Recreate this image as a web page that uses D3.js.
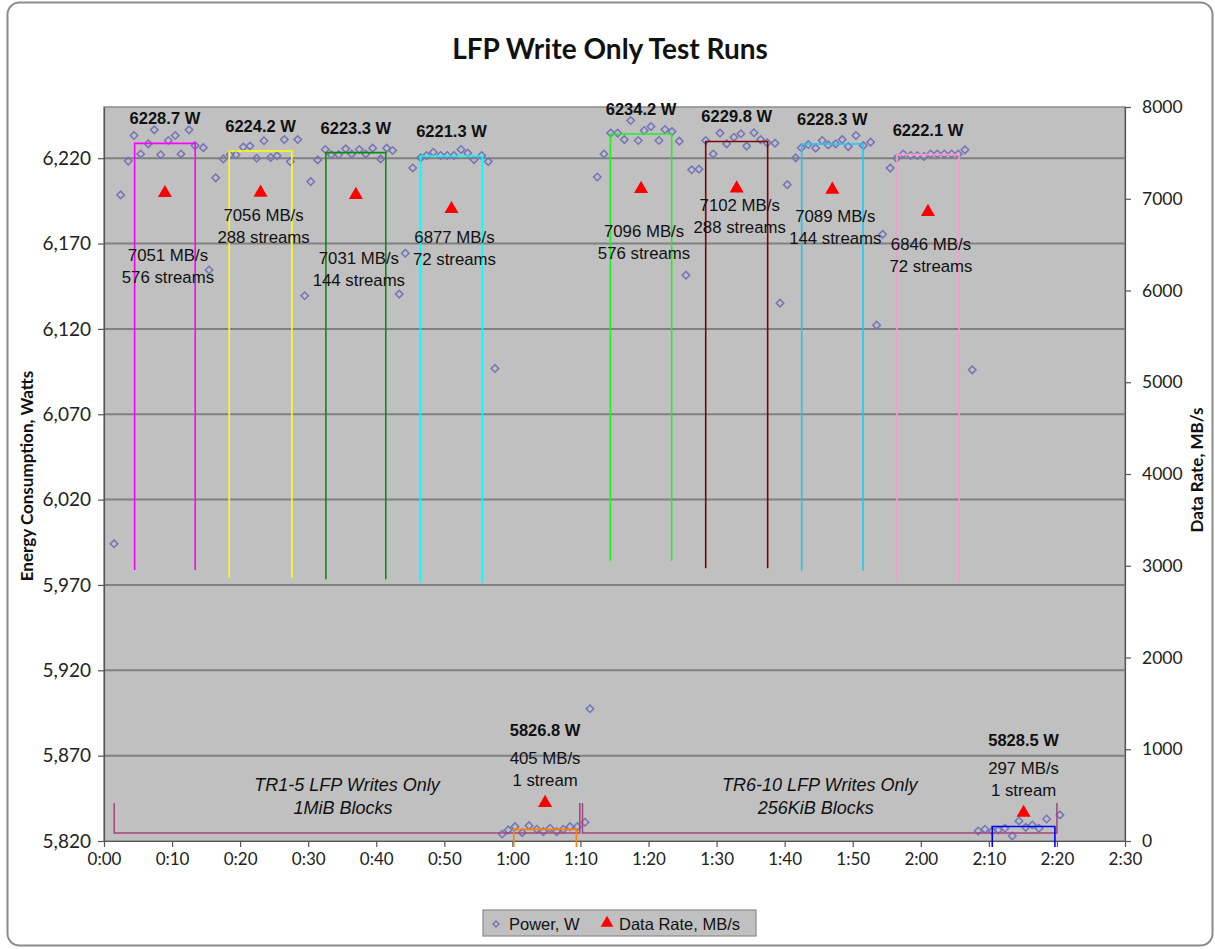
<!DOCTYPE html>
<html>
<head>
<meta charset="utf-8">
<script src="https://cdn.jsdelivr.net/npm/d3@7"></script>
<style>
  html, body { margin: 0; padding: 0; background: #fff; }
  svg { display: block; }
</style>
</head>
<body>
<svg id="chart" width="1215" height="949"></svg>
<script>
// Power samples, one per minute (elapsed minutes, watts)
const powerTime = [
  1.47, 2.45, 3.57, 4.41, 5.39, 6.51, 7.39, 8.33, 9.45, 10.47, 11.31, 12.49, 13.37, 14.59,
  15.43, 16.41, 17.53, 18.51, 19.39, 20.46, 21.45, 22.43, 23.5, 24.49, 25.42, 26.49, 27.37, 28.46,
  29.48, 30.37, 31.39, 32.51, 33.39, 34.48, 35.51, 36.39, 37.51, 38.45, 39.47, 40.65, 41.53, 42.41,
  43.38, 44.26, 45.35, 46.53, 47.41, 48.38, 49.46, 50.43, 51.42, 52.45, 53.43, 54.36, 55.49, 56.46, 57.44,
  58.51, 59.39, 60.38, 61.45, 62.44, 63.57, 64.54, 65.52, 66.51, 67.48, 68.46, 69.53, 70.66, 71.4,
  72.47, 73.45, 74.44, 75.47, 76.44, 77.38, 78.49, 79.37, 80.36, 81.53, 82.42, 83.45, 84.52, 85.5,
  86.34, 87.41, 88.4, 89.51, 90.5, 91.48, 92.55, 93.58, 94.42, 95.49, 96.47, 97.44, 98.58, 99.31,
  100.38, 101.62, 102.44, 103.47, 104.55, 105.52, 106.41, 107.49, 108.46, 109.34, 110.47, 111.55, 112.63,
  113.51, 114.4, 115.51, 116.45, 117.42, 118.51, 119.48, 120.46, 121.45, 122.42, 123.45, 124.53, 125.5,
  126.49, 127.56,
  128.44, 129.43, 130.5, 131.38, 132.36, 133.44, 134.42, 135.41, 136.38, 137.36, 138.49, 140.44
];
const powerWatts = [
  5994.1, 6198.5, 6218.3, 6233.3, 6222.5, 6228.4, 6236.6, 6222.0, 6230.4, 6233.3, 6222.5, 6236.6, 6227.4, 6226.2,
  6154.5, 6208.5, 6219.6, 6222.0, 6222.0, 6226.5, 6227.1, 6220.0, 6230.2, 6220.4, 6221.4, 6230.9, 6218.0, 6230.9,
  6139.4, 6206.3, 6219.0, 6225.1, 6222.1, 6222.1, 6225.5, 6222.5, 6225.1, 6222.5, 6225.9, 6219.6, 6225.9, 6224.5,
  6140.4, 6164.3, 6214.3, 6220.2, 6221.6, 6223.5, 6221.6, 6221.6, 6221.6, 6225.1, 6223.0, 6219.2, 6221.6, 6218.0, 6096.8,
  5824.1, 5826.5, 5828.4, 5824.9, 5829.0, 5826.9, 5825.5, 5827.5, 5825.5, 5826.9, 5828.4, 5828.4, 5831.0, 5897.5,
  6209.0, 6222.5, 6234.7, 6234.7, 6230.9, 6242.1, 6230.4, 6236.2, 6238.6, 6230.4, 6236.8, 6235.6, 6230.0, 6151.5,
  6213.2, 6213.6, 6230.4, 6222.5, 6234.7, 6228.4, 6232.3, 6234.3, 6227.1, 6234.9, 6230.9, 6229.0, 6228.8, 6135.1,
  6204.5, 6220.2, 6226.1, 6228.0, 6225.9, 6230.4, 6227.8, 6228.4, 6230.9, 6226.8, 6233.3, 6227.4, 6229.4,
  6122.2, 6175.4, 6214.2, 6220.0, 6222.5, 6221.6, 6221.6, 6221.0, 6222.5, 6222.5, 6222.5, 6222.5, 6222.5,
  6224.9, 6096.0,
  5825.9, 5826.9, 5825.9, 5826.5, 5827.5, 5822.9, 5831.7, 5828.0, 5829.4, 5827.5, 5832.9, 5835.3
];

// Test runs: measurement window (minutes), mean power, data rate, stream count
const runStart   = [4.5, 18.4, 32.6, 46.5, 60.2, 74.4, 88.4, 102.5, 116.5, 130.5];
const runEnd     = [13.4, 27.6, 41.4, 55.6, 69.4, 83.4, 97.5, 111.5, 125.6, 139.7];
const runPower   = [6228.7, 6224.2, 6223.3, 6221.3, 5826.8, 6234.2, 6229.8, 6228.3, 6222.1, 5828.5];
const runRate    = [7051, 7056, 7031, 6877, 405, 7096, 7102, 7089, 6846, 297];
const runStreams = [576, 288, 144, 72, 1, 576, 288, 144, 72, 1];

// Test series groupings
const groupStart = [1.5, 70.3];
const groupEnd   = [69.9, 140.0];
const groupLine1 = ["TR1-5 LFP Writes Only", "TR6-10 LFP Writes Only"];
const groupLine2 = ["1MiB Blocks", "256KiB Blocks"];

// Axis ticks
const timeTicks  = d3.range(0, 151, 10);
const powerTicks = d3.range(5820, 6221, 50);
const rateTicks  = d3.range(0, 8001, 1000);

// Styling for each run window, and label nudges (px)
const runColors   = ["#ff00ff", "#ffff00", "#108a10", "#00ffff", "#ff8000", "#22ee22", "#800000", "#22c4f4", "#ff99cc", "#0000ff"];
const rateLabelDy = [61, 21, 62, 27, -46, 41, 16, 25, 31, -46];

const m = { left: 104, right: 1125, top: 107, bottom: 841 };

const svg = d3.select("#chart");

// chart frame
svg.append("rect")
  .attr("x", 7.5).attr("y", 2.5).attr("width", 1205).attr("height", 943)
  .attr("rx", 12).attr("fill", "#fff").attr("stroke", "#8c8c8c").attr("stroke-width", 2);

const x  = d3.scaleLinear().domain([0, 150]).range([m.left, m.right]);
const yP = d3.scaleLinear().domain([5820, 6250]).range([m.bottom, m.top]);
const yR = d3.scaleLinear().domain([0, 8000]).range([m.bottom, m.top]);

// plot background
svg.append("rect")
  .attr("x", m.left).attr("y", m.top)
  .attr("width", m.right - m.left).attr("height", m.bottom - m.top)
  .attr("fill", "#c0c0c0").attr("stroke", "#8a8a8a").attr("stroke-width", 1.5);

// gridlines
svg.append("g").selectAll("line").data(powerTicks.filter(d => d > 5820)).join("line")
  .attr("x1", m.left).attr("x2", m.right)
  .attr("y1", d => yP(d)).attr("y2", d => yP(d))
  .attr("stroke", "#808080").attr("stroke-width", 2);

// title
svg.append("text")
  .attr("x", 610).attr("y", 59).attr("text-anchor", "middle")
  .attr("font-family", "Lato, 'Open Sans', sans-serif").attr("font-weight", "bold")
  .attr("font-size", 28).attr("fill", "#111")
  .text("LFP Write Only Test Runs");

// axes
const fmtTime = d => `${Math.floor(d / 60)}:${String(d % 60).padStart(2, "0")}`;
const tickFont = size => g => g.selectAll("text")
  .attr("font-family", "Lato, sans-serif").attr("font-size", size).attr("fill", "#222");

const gx = svg.append("g").attr("transform", `translate(0,${m.bottom})`)
  .call(d3.axisBottom(x).tickValues(timeTicks).tickFormat(fmtTime).tickSize(6).tickSizeOuter(0).tickPadding(6))
  .call(tickFont(17));
const gl = svg.append("g").attr("transform", `translate(${m.left},0)`)
  .call(d3.axisLeft(yP).tickValues(powerTicks).tickFormat(d3.format(",")).tickSize(6).tickSizeOuter(0).tickPadding(7))
  .call(tickFont(19));
const gr = svg.append("g").attr("transform", `translate(${m.right},0)`)
  .call(d3.axisRight(yR).tickValues(rateTicks).tickFormat(d3.format("d")).tickSize(6).tickSizeOuter(0).tickPadding(11))
  .call(tickFont(17.5));
[gx, gl, gr].forEach(g => {
  g.selectAll("line").attr("stroke", "#555").attr("stroke-width", 1.2);
  g.select(".domain").attr("stroke", "#555").attr("stroke-width", 1.2);
});

// axis titles
svg.append("text")
  .attr("transform", `translate(33,476) rotate(-90)`).attr("text-anchor", "middle")
  .attr("font-family", "Lato, sans-serif").attr("font-weight", "bold").attr("font-size", 17).attr("fill", "#111")
  .text("Energy Consumption, Watts");
svg.append("text")
  .attr("transform", `translate(1203,470) rotate(-90)`).attr("text-anchor", "middle")
  .attr("font-family", "Lato, sans-serif").attr("font-weight", "bold").attr("font-size", 17).attr("fill", "#111")
  .text("Data Rate, MB/s");

const plot = svg.append("g");

// power markers (hollow diamonds: squares turned 45°)
const diamond = d3.symbol().type(d3.symbolSquare).size(28);
plot.append("g").selectAll("path").data(d3.zip(powerTime, powerWatts)).join("path")
  .attr("d", diamond)
  .attr("transform", d => `translate(${x(d[0])},${yP(d[1])}) rotate(45)`)
  .attr("fill", "none").attr("stroke", "#7474b6").attr("stroke-width", 1.5);

// group brackets with captions
const bracketColor = "#a3457a";
const lab = "'Liberation Sans', Arial, sans-serif";
groupStart.forEach((s, i) => {
  const e = groupEnd[i];
  const path = d3.path();
  path.moveTo(x(s), yP(5842.3));
  path.lineTo(x(s), yP(5824.7));
  path.lineTo(x(e), yP(5824.7));
  path.lineTo(x(e), yP(5842.3));
  plot.append("path").attr("d", path.toString())
    .attr("fill", "none").attr("stroke", bracketColor).attr("stroke-width", 1.5);
  const cx = x((s + e) / 2);
  plot.append("text").attr("x", cx).attr("y", yP(5852.9) + 6).attr("text-anchor", "middle")
    .attr("font-family", lab).attr("font-style", "italic").attr("font-size", 18).attr("fill", "#111")
    .text(groupLine1[i]);
  plot.append("text").attr("x", cx - 4).attr("y", yP(5852.9) + 29).attr("text-anchor", "middle")
    .attr("font-family", lab).attr("font-style", "italic").attr("font-size", 18).attr("fill", "#111")
    .text(groupLine2[i]);
});

// run windows: outline at the mean power level
runStart.forEach((s, i) => {
  const e = runEnd[i];
  const top = yP(runPower[i]);
  const low = runPower[i] < 6000 ? m.bottom + 6 : yP(runPower[i] - 250);
  const path = d3.path();
  path.moveTo(x(s), low);
  path.lineTo(x(s), top);
  path.lineTo(x(e), top);
  path.lineTo(x(e), low);
  plot.append("path").attr("d", path.toString())
    .attr("fill", "none").attr("stroke", runColors[i]).attr("stroke-width", 1.6);
});

// data rate markers (red triangles)
const tri = d3.symbol().type(d3.symbolTriangle).size(85);
plot.append("g").selectAll("path").data(runRate.map((r, i) => [(runStart[i] + runEnd[i]) / 2, r])).join("path")
  .attr("d", tri)
  .attr("transform", d => `translate(${x(d[0])},${yR(d[1]) - 1})`)
  .attr("fill", "#ff0000");

// run labels
runStart.forEach((s, i) => {
  const cx = x((s + runEnd[i]) / 2);
  const ty = yR(runRate[i]);
  const low = runPower[i] < 6000;
  const pY = low ? ty - 74 : yP(runPower[i]) - 25;
  plot.append("text").attr("x", cx).attr("y", pY + 6).attr("text-anchor", "middle")
    .attr("font-family", lab).attr("font-weight", "bold").attr("font-size", 16.5).attr("fill", "#111")
    .text(`${runPower[i].toFixed(1)} W`);
  const rY = ty + rateLabelDy[i];
  const rx = low ? cx : cx + 3;
  plot.append("text").attr("x", rx).attr("y", rY + 6).attr("text-anchor", "middle")
    .attr("font-family", lab).attr("font-size", 16.8).attr("fill", "#111")
    .text(`${runRate[i]} MB/s`);
  plot.append("text").attr("x", rx).attr("y", rY + 28).attr("text-anchor", "middle")
    .attr("font-family", lab).attr("font-size", 16.8).attr("fill", "#111")
    .text(`${runStreams[i]} ${runStreams[i] === 1 ? "stream" : "streams"}`);
});

// legend
const lg = svg.append("g").attr("transform", "translate(483,910)");
lg.append("rect").attr("width", 273).attr("height", 26)
  .attr("fill", "#c0c0c0").attr("stroke", "#8a8a8a").attr("stroke-width", 1.2);
lg.append("path").attr("d", d3.symbol().type(d3.symbolSquare).size(18))
  .attr("transform", "translate(13,14) rotate(45)").attr("fill", "none").attr("stroke", "#7474b6").attr("stroke-width", 1.4);
lg.append("text").attr("x", 26).attr("y", 19.5)
  .attr("font-family", lab).attr("font-size", 16.5).attr("fill", "#111").text("Power, W");
lg.append("path").attr("d", d3.symbol().type(d3.symbolTriangle).size(70))
  .attr("transform", "translate(124,13)").attr("fill", "#ff0000");
lg.append("text").attr("x", 136).attr("y", 19.5)
  .attr("font-family", lab).attr("font-size", 16.5).attr("fill", "#111").text("Data Rate, MB/s");
</script>
</body>
</html>
